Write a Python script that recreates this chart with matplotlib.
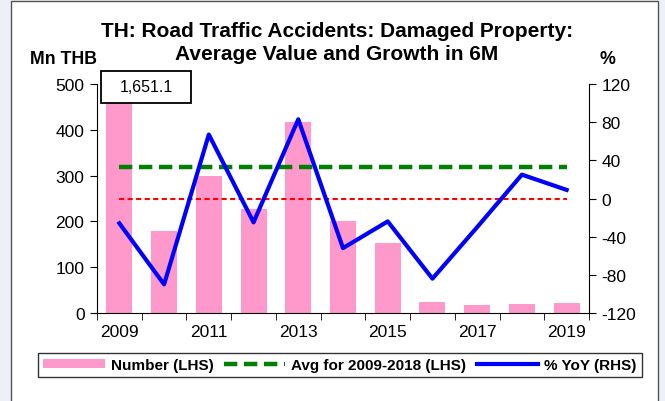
import matplotlib.pyplot as plt
from matplotlib.patches import Rectangle
from matplotlib.lines import Line2D

plt.rcParams["font.family"] = ["Liberation Sans", "DejaVu Sans"]
plt.rcParams["axes.unicode_minus"] = False

years = [2009, 2010, 2011, 2012, 2013, 2014, 2015, 2016, 2017, 2018, 2019]
number = [1651.1, 180, 300, 227, 416, 200, 153, 24, 17, 20, 22.5]
yoy = [-26, -90, 67, -25, 83, -52, -24, -84, -30, 25, 9]
avg_2009_2018 = 319
top_label = "1,651.1"

W, H = 665, 402
fig = plt.figure(figsize=(W / 100, H / 100), dpi=100)
fig.patch.set_facecolor("#eef0f7")
fig.patches.append(Rectangle((11 / W, -0.05), 647 / W, 1.05 - 2 / H, transform=fig.transFigure,
                             facecolor="white", edgecolor="#555555", lw=1, zorder=-10))


def px(x0, y0, x1, y1):
    return [x0 / W, 1 - y1 / H, (x1 - x0) / W, (y1 - y0) / H]


ax = fig.add_axes(px(97, 85, 589, 314))
ax.set_facecolor("none")
x = list(range(len(years)))

ax.bar(x, number, width=0.58, color="#ff99cc", zorder=1)
ax.plot([x[0], x[-1]], [avg_2009_2018] * 2, color="#008000", lw=3.2, dashes=(3, 1.5), zorder=3)
ax.set_ylim(0, 500)
ax.set_xlim(-0.5, len(years) - 0.5)
ax.set_yticks(range(0, 501, 100))
ax.set_xticks(x[::2])
ax.set_xticklabels([str(y) for y in years[::2]])
ax.set_xticks([i - 0.5 for i in range(len(years) + 1)], minor=True)
ax.tick_params(axis="x", which="major", length=0, pad=8, labelsize=12.5)
ax.tick_params(axis="x", which="minor", length=5, direction="out")
ax.tick_params(axis="y", length=5, direction="out", labelsize=12.5, pad=4)
for s in ["top", "right"]:
    ax.spines[s].set_visible(False)

ax2 = ax.twinx()
ax2.plot([x[0], x[-1]], [0, 0], color="red", lw=1.5, dashes=(2.5, 1.6), zorder=2)
ax2.plot(x, yoy, color="#0000ff", lw=3, zorder=4)
ax2.set_ylim(-120, 120)
ax2.set_yticks(range(-120, 121, 40))
ax2.tick_params(axis="y", length=5, direction="out", labelsize=12.5, pad=4)
for s in ["top", "left", "bottom"]:
    ax2.spines[s].set_visible(False)

fig.text(337 / W, 1 - 43 / H, "TH: Road Traffic Accidents: Damaged Property:\nAverage Value and Growth in 6M",
         ha="center", va="center", fontsize=15, fontweight="bold", linespacing=1.3)
fig.text(63 / W, 1 - 60 / H, "Mn THB", ha="center", va="center", fontsize=12.8, fontweight="bold")
fig.text(607 / W, 1 - 60 / H, "%", ha="center", va="center", fontsize=12.8, fontweight="bold")

# label box for the clipped 2009 bar
fig.patches.append(Rectangle((101 / W, 1 - 104 / H), 90 / W, 32 / H, transform=fig.transFigure,
                             facecolor="white", edgecolor="black", lw=1.3, zorder=5))
fig.text(146 / W, 1 - 88 / H, top_label, ha="center", va="center", fontsize=11.5, zorder=6)

handles = [
    Rectangle((0, 0), 1, 1, facecolor="#ff99cc"),
    Line2D([], [], color="#008000", lw=3.2, dashes=(3, 1.5)),
    Line2D([], [], color="#0000ff", lw=3),
]
labels = ["Number (LHS)", "Avg for 2009-2018 (LHS)", "% YoY (RHS)"]
leg = fig.legend(handles, labels, loc="center", bbox_to_anchor=(340 / W, 1 - 366 / H), ncol=3,
                 frameon=True, fancybox=False, edgecolor="black", handlelength=4.0, handleheight=0.6,
                 columnspacing=0.7, handletextpad=0.4, borderpad=0.35,
                 prop={"weight": "bold", "size": 11})
leg.get_frame().set_linewidth(1)

fig.savefig("out.png", dpi=100)
